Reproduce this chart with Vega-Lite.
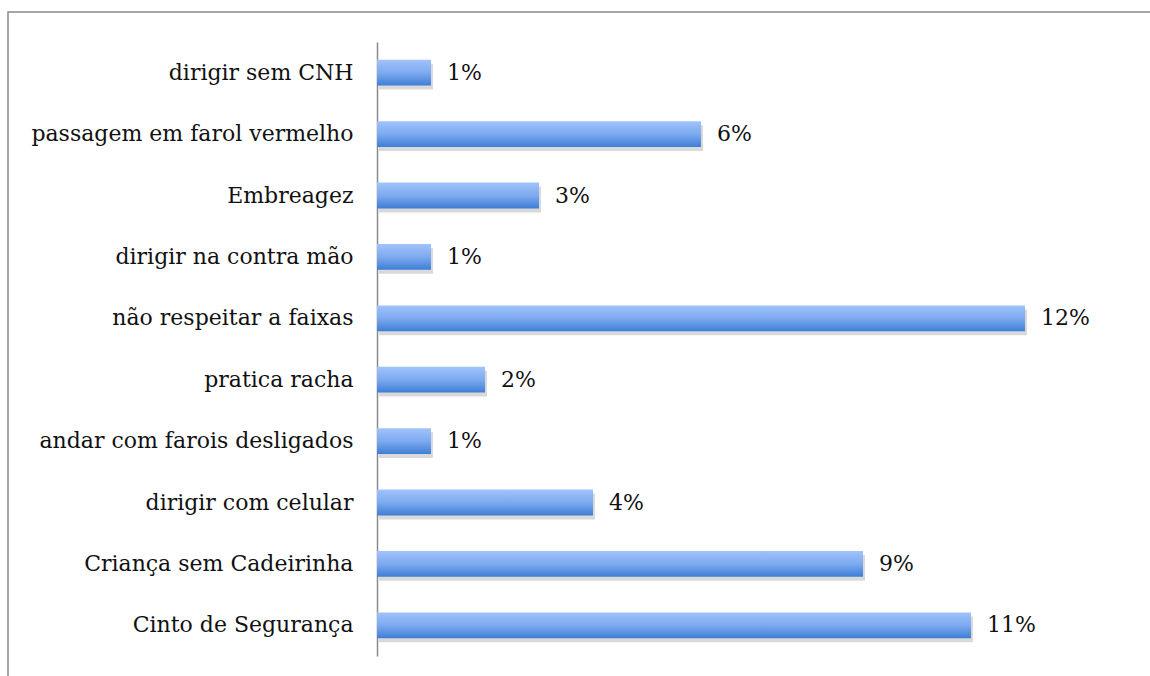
{
  "$schema": "https://vega.github.io/schema/vega-lite/v6.json",
  "autosize": {"type": "none"},
  "padding": {"left": 8, "top": 12, "right": 0, "bottom": 0},
  "width": 1146,
  "height": 674,
  "background": "white",
  "config": {
    "view": {"stroke": "#8a8a8a", "strokeWidth": 1.5},
    "font": "DejaVu Serif"
  },
  "data": {
    "values": [
      {"categoria": "dirigir sem CNH", "valor": 1, "rotulo": "1%"},
      {"categoria": "passagem em farol vermelho", "valor": 6, "rotulo": "6%"},
      {"categoria": "Embreagez", "valor": 3, "rotulo": "3%"},
      {"categoria": "dirigir na contra mão", "valor": 1, "rotulo": "1%"},
      {"categoria": "não respeitar a faixas", "valor": 12, "rotulo": "12%"},
      {"categoria": "pratica racha", "valor": 2, "rotulo": "2%"},
      {"categoria": "andar com farois desligados", "valor": 1, "rotulo": "1%"},
      {"categoria": "dirigir com celular", "valor": 4, "rotulo": "4%"},
      {"categoria": "Criança sem Cadeirinha", "valor": 9, "rotulo": "9%"},
      {"categoria": "Cinto de Segurança", "valor": 11, "rotulo": "11%"}
    ]
  },
  "encoding": {
    "y": {
      "field": "categoria",
      "type": "nominal",
      "sort": null,
      "scale": {"range": [30, 644], "paddingInner": 0.58, "paddingOuter": 0.29},
      "axis": {
        "title": null,
        "offset": -369,
        "ticks": false,
        "domainColor": "#8a8a8a",
        "domainWidth": 1.5,
        "labelFont": "DejaVu Serif",
        "labelFontSize": 22,
        "labelColor": "#111111",
        "labelPadding": 24,
        "labelLimit": 400
      }
    },
    "x": {
      "field": "valor",
      "type": "quantitative",
      "scale": {"domain": [0, 14], "range": [369, 1125], "nice": false},
      "axis": null
    }
  },
  "layer": [
    {
      "mark": {"type": "bar", "color": "#000000", "opacity": 0.15, "xOffset": 2, "yOffset": 4, "cornerRadius": 0}
    },
    {
      "mark": {
        "type": "bar",
        "color": {
          "gradient": "linear",
          "x1": 0, "y1": 0, "x2": 0, "y2": 1,
          "stops": [
            {"offset": 0, "color": "#a0c3fb"},
            {"offset": 0.5, "color": "#7eaaf0"},
            {"offset": 1, "color": "#3e7ed6"}
          ]
        }
      }
    },
    {
      "mark": {"type": "text", "align": "left", "baseline": "middle", "dx": 16, "fontSize": 22, "font": "DejaVu Serif", "color": "#111111"},
      "encoding": {"text": {"field": "rotulo"}}
    }
  ]
}
